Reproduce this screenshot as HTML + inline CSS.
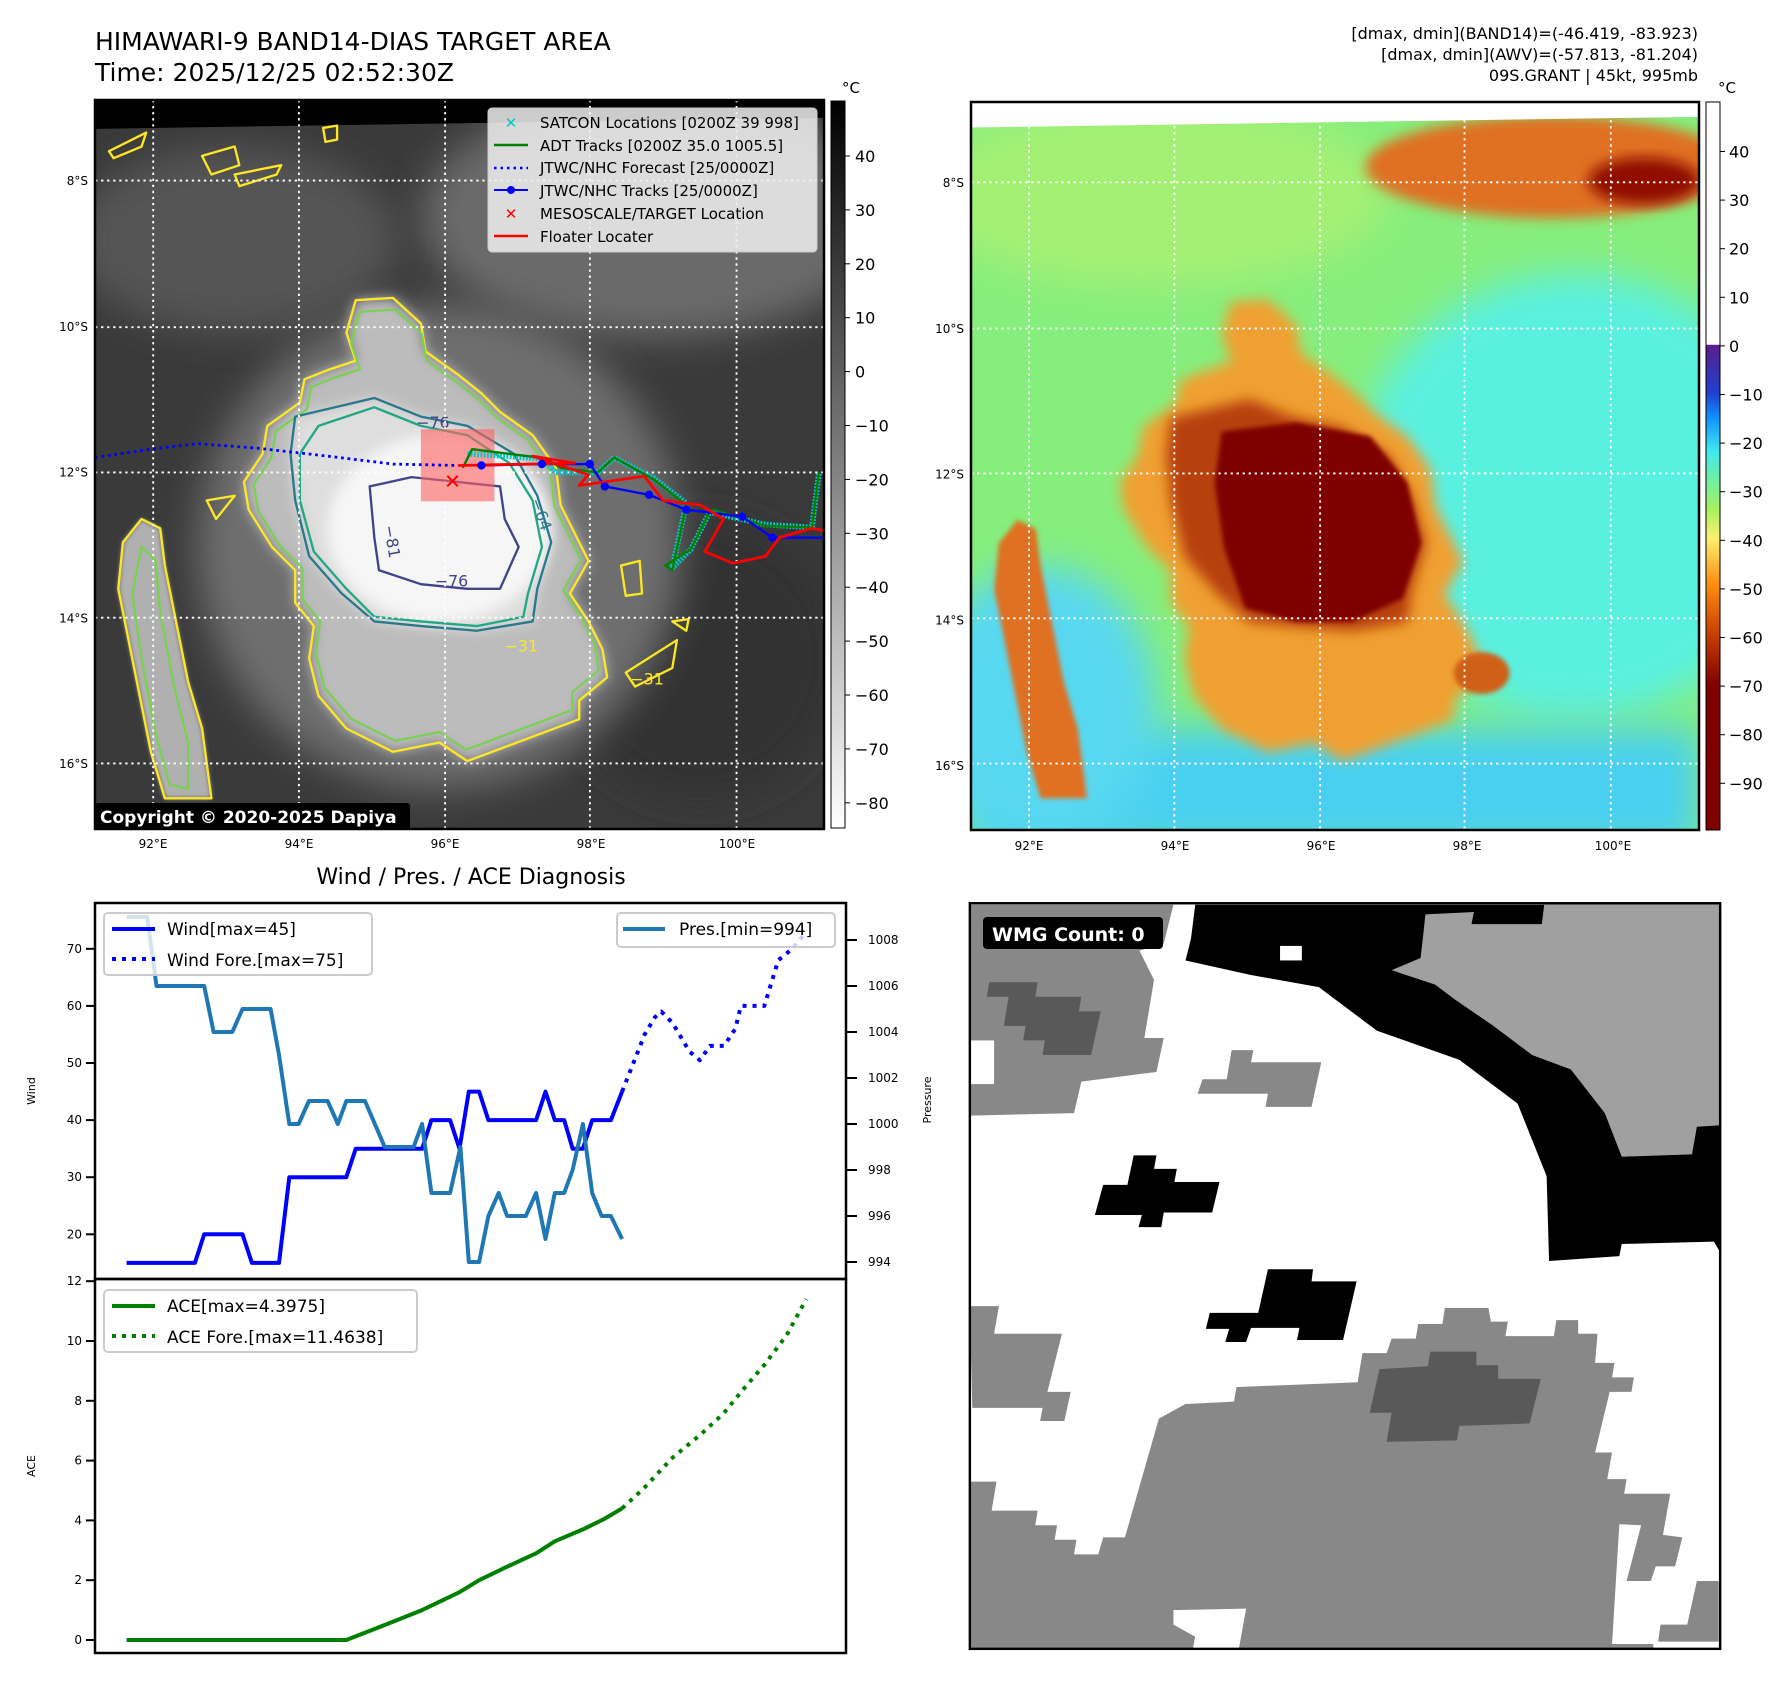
<!DOCTYPE html>
<html><head><meta charset="utf-8"><style>
html,body{margin:0;padding:0;background:#fff;}
svg text{font-family:"DejaVu Sans","Liberation Sans",sans-serif;}
</style></head><body>
<svg id="root" xmlns="http://www.w3.org/2000/svg" width="1788" height="1690" viewBox="0 0 1788 1690">
<defs>
<filter id="b8" x="-20%" y="-20%" width="140%" height="140%"><feGaussianBlur stdDeviation="14"/></filter>
<filter id="b20" x="-30%" y="-30%" width="160%" height="160%"><feGaussianBlur stdDeviation="40"/></filter>
<filter id="b4"><feGaussianBlur stdDeviation="5"/></filter>
<linearGradient id="grayBar" x1="0" y1="0" x2="0" y2="1"><stop offset="0" stop-color="#000"/><stop offset="1" stop-color="#fff"/></linearGradient>
<linearGradient id="colBar" x1="0" y1="0" x2="0" y2="1">
<stop offset="0" stop-color="#ffffff"/><stop offset="0.333" stop-color="#ffffff"/>
<stop offset="0.334" stop-color="#5a1e8c"/><stop offset="0.40" stop-color="#2040d0"/>
<stop offset="0.433" stop-color="#1090ff"/><stop offset="0.48" stop-color="#40e8f0"/>
<stop offset="0.52" stop-color="#70f0a0"/><stop offset="0.56" stop-color="#a8f060"/>
<stop offset="0.60" stop-color="#fff070"/><stop offset="0.66" stop-color="#ff9010"/>
<stop offset="0.73" stop-color="#c84000"/><stop offset="0.80" stop-color="#800000"/><stop offset="1" stop-color="#800000"/>
</linearGradient>
<clipPath id="mapclip"><rect x="0" y="0" width="1568" height="1568"/></clipPath>
</defs>

<text x="95" y="50" font-size="25">HIMAWARI-9 BAND14-DIAS TARGET AREA</text>
<text x="95" y="81" font-size="25">Time: 2025/12/25 02:52:30Z</text>
<g font-size="16" text-anchor="end">
<text x="1698" y="39">[dmax, dmin](BAND14)=(-46.419, -83.923)</text>
<text x="1698" y="60">[dmax, dmin](AWV)=(-57.813, -81.204)</text>
<text x="1698" y="81">09S.GRANT | 45kt, 995mb</text>
</g>

<svg x="95" y="100" width="730" height="730" viewBox="0 0 1568 1568">
<g clip-path="url(#mapclip)">
<rect width="1568" height="1568" fill="#3a3a3a"/>
<ellipse cx="1200" cy="250" rx="500" ry="260" fill="#6a6a6a" filter="url(#b20)"/>
<ellipse cx="300" cy="300" rx="350" ry="200" fill="#555" filter="url(#b20)"/>
<ellipse cx="1300" cy="1200" rx="300" ry="300" fill="#303030" filter="url(#b20)"/>
<ellipse cx="740" cy="960" rx="520" ry="520" fill="#6e6e6e" filter="url(#b20)"/>
<polygon fill="#bcbcbc" filter="url(#b8)" points="560,430 640,425 700,480 710,540 780,590 830,630 870,670 940,720 990,790 1000,870 1030,930 1060,990 1020,1060 1060,1120 1090,1180 1100,1240 1040,1290 1040,1330 960,1360 880,1390 800,1420 740,1380 640,1400 540,1350 480,1280 460,1200 470,1130 430,1080 430,1010 380,960 330,880 320,820 360,760 370,700 440,650 450,600 500,580 560,560 540,500"/>
<polygon fill="#b0b0b0" filter="url(#b4)" points="100,900 140,920 150,1000 170,1100 200,1250 230,1350 250,1500 150,1500 120,1400 80,1200 50,1050 60,950"/>
<polygon fill="#dedede" filter="url(#b8)" points="430,680 600,640 700,680 800,700 900,760 950,850 980,950 950,1050 940,1120 820,1140 700,1130 600,1120 530,1060 460,980 430,860 420,760"/>
<ellipse cx="740" cy="920" rx="240" ry="200" fill="#f6f6f6" filter="url(#b8)"/>
<polygon fill="#000" points="0,0 1568,0 1568,38 0,62"/>
<g fill="none" stroke-width="5" stroke-linejoin="round">
<polygon stroke="#fde725" points="560,430 640,425 700,480 710,540 780,590 830,630 870,670 940,720 990,790 1000,870 1030,930 1060,990 1020,1060 1060,1120 1090,1180 1100,1240 1040,1290 1040,1330 960,1360 880,1390 800,1420 740,1380 640,1400 540,1350 480,1280 460,1200 470,1130 430,1080 430,1010 380,960 330,880 320,820 360,760 370,700 440,650 450,600 500,580 560,560 540,500"/>
<polygon stroke="#7ad151" transform="translate(740 930) scale(0.95) translate(-740 -930)" points="560,430 640,425 700,480 710,540 780,590 830,630 870,670 940,720 990,790 1000,870 1030,930 1060,990 1020,1060 1060,1120 1090,1180 1100,1240 1040,1290 1040,1330 960,1360 880,1390 800,1420 740,1380 640,1400 540,1350 480,1280 460,1200 470,1130 430,1080 430,1010 380,960 330,880 320,820 360,760 370,700 440,650 450,600 500,580 560,560 540,500"/>
<polygon stroke="#fde725" points="100,900 140,920 150,1000 170,1100 200,1250 230,1350 250,1500 150,1500 120,1400 80,1200 50,1050 60,950"/>
<polygon stroke="#7ad151" points="100,960 130,990 140,1100 170,1260 200,1380 200,1480 160,1470 130,1360 100,1200 80,1060"/>
<polygon stroke="#22a884" points="480,700 600,660 700,700 800,720 890,780 940,860 960,960 930,1060 920,1110 820,1130 700,1120 600,1110 540,1050 470,970 440,860 440,760"/>
<polygon stroke="#2a788e" points="430,680 600,640 700,680 800,700 900,760 950,850 980,950 950,1050 940,1120 820,1140 700,1130 600,1120 530,1060 460,980 430,860 420,760"/>
<polygon stroke="#414487" points="590,830 680,810 870,830 880,900 910,960 870,1050 800,1050 700,1040 610,1010 600,940"/>
<path stroke="#fde725" d="M30,110 L110,70 L100,100 L40,125 Z M230,120 L300,100 L310,140 L250,160 Z M300,160 L400,140 L390,160 L310,185 Z M490,60 L520,55 L520,85 L495,90 Z M1130,1000 L1170,990 L1175,1060 L1140,1065 Z M1140,1230 L1250,1160 L1240,1220 L1160,1260 Z M1240,1120 L1275,1115 L1270,1140 Z M240,860 L300,850 L260,900 Z"/>
</g>
<g font-size="34" fill="#414487">
<text x="620" y="915" transform="rotate(80 620 915)">−81</text>
<text x="730" y="1045">−76</text>
<text x="690" y="705">−76</text>
<text x="935" y="860" fill="#2a788e" transform="rotate(70 935 860)">−64</text>
<text x="880" y="1185" fill="#fde725">−31</text>
<text x="1150" y="1255" fill="#fde725">−31</text>
</g>
<g stroke="#fff" stroke-width="4" stroke-dasharray="5 8">
<line x1="125" y1="0" x2="125" y2="1568"/><line x1="438" y1="0" x2="438" y2="1568"/><line x1="752" y1="0" x2="752" y2="1568"/><line x1="1063" y1="0" x2="1063" y2="1568"/><line x1="1378" y1="0" x2="1378" y2="1568"/>
<line x1="0" y1="173" x2="1568" y2="173"/><line x1="0" y1="488" x2="1568" y2="488"/><line x1="0" y1="800" x2="1568" y2="800"/><line x1="0" y1="1112" x2="1568" y2="1112"/><line x1="0" y1="1425" x2="1568" y2="1425"/>
</g>
<rect x="700" y="707" width="158" height="155" fill="#ff6060" opacity="0.6"/>
<g fill="none" stroke-linejoin="round">
<polyline stroke="#00c8c8" stroke-width="12" stroke-dasharray="4 3" points="800,760 960,770 990,800 1080,800 1115,768 1200,812 1270,866 1240,1005 1280,965 1320,885 1440,912 1540,918 1555,800"/>
<polyline stroke="#008000" stroke-width="5" points="790,790 810,750 970,770 1000,790 1080,800 1115,768 1200,815 1270,870 1240,1010 1225,1000 1280,965 1320,885 1330,880 1440,915 1540,918 1555,800"/>
<polyline stroke="#0000ff" stroke-width="6" stroke-dasharray="6 8" points="0,768 120,750 220,738 350,748 500,765 640,782 780,785"/>
<polyline stroke="#0000ff" stroke-width="5" points="830,785 960,782 1063,782 1095,830 1190,848 1270,880 1390,895 1455,940 1568,940"/>
<polyline stroke="#ff0000" stroke-width="6" points="780,785 1030,780 940,765 1060,805 1040,828 1180,808 1220,860 1300,870 1350,900 1310,970 1370,995 1440,980 1470,940 1540,920 1568,925"/>
</g>
<g fill="#0000ff"><circle cx="830" cy="785" r="9"/><circle cx="960" cy="782" r="9"/><circle cx="1063" cy="782" r="9"/><circle cx="1095" cy="830" r="9"/><circle cx="1190" cy="848" r="9"/><circle cx="1270" cy="880" r="9"/><circle cx="1390" cy="895" r="9"/><circle cx="1455" cy="940" r="9"/></g>
<text x="768" y="834" font-size="44" font-weight="bold" fill="#ff0000" text-anchor="middle">✕</text>
</g>
</svg>
<rect x="95" y="100" width="729" height="729" fill="none" stroke="#000" stroke-width="2.5"/>

<g>
<rect x="488" y="108" width="329" height="144" rx="4" fill="#f0f0f0" fill-opacity="0.85" stroke="#ccc"/>
<g font-size="15">
<text x="511" y="128" fill="#00c8c8" text-anchor="middle" font-weight="bold">✕</text><text x="540" y="128">SATCON Locations [0200Z 39 998]</text>
<line x1="494" y1="145" x2="528" y2="145" stroke="#008000" stroke-width="2.5"/><text x="540" y="151">ADT Tracks [0200Z 35.0 1005.5]</text>
<line x1="494" y1="168" x2="528" y2="168" stroke="#0000ff" stroke-width="2.5" stroke-dasharray="2.5 4"/><text x="540" y="173">JTWC/NHC Forecast [25/0000Z]</text>
<line x1="494" y1="190" x2="528" y2="190" stroke="#0000ff" stroke-width="2"/><circle cx="511" cy="190" r="4" fill="#0000ff"/><text x="540" y="196">JTWC/NHC Tracks [25/0000Z]</text>
<text x="511" y="219" fill="#ff0000" text-anchor="middle" font-weight="bold">✕</text><text x="540" y="219">MESOSCALE/TARGET Location</text>
<line x1="494" y1="236" x2="528" y2="236" stroke="#ff0000" stroke-width="2.5"/><text x="540" y="242">Floater Locater</text>
</g></g>
<g><rect x="95" y="803" width="315" height="27" rx="3" fill="#000"/><text x="100" y="823" fill="#fff" font-size="17" font-weight="bold">Copyright © 2020-2025 Dapiya</text></g>

<g>
<rect x="831" y="101" width="14" height="727" fill="url(#grayBar)" stroke="#000" stroke-width="1"/>
<text x="842" y="93" font-size="15">°C</text>
<g id="lcbTicks" font-size="16"></g>
</g>

<svg x="971" y="102" width="728" height="728" viewBox="0 0 1568 1568">
<g clip-path="url(#mapclip)">
<rect width="1568" height="1568" fill="#86ee7c"/>
<ellipse cx="400" cy="200" rx="500" ry="200" fill="#a4f074" filter="url(#b20)"/>
<ellipse cx="1300" cy="850" rx="480" ry="480" fill="#5af0e0" filter="url(#b20)"/>
<rect x="0" y="1350" width="1568" height="260" fill="#48d0f0" filter="url(#b20)"/>
<ellipse cx="150" cy="1300" rx="250" ry="300" fill="#58d8f0" filter="url(#b20)"/>
<ellipse cx="1250" cy="140" rx="400" ry="110" fill="#e07020" filter="url(#b8)"/>
<ellipse cx="1450" cy="170" rx="120" ry="50" fill="#900800" filter="url(#b8)"/>
<polygon fill="#f0a030" filter="url(#b8)" points="560,430 640,425 700,480 710,540 780,590 830,630 870,670 940,720 990,790 1000,870 1030,930 1060,990 1020,1060 1060,1120 1090,1180 1100,1240 1040,1290 1040,1330 960,1360 880,1390 800,1420 740,1380 640,1400 540,1350 480,1280 460,1200 470,1130 430,1080 430,1010 380,960 330,880 320,820 360,760 370,700 440,650 450,600 500,580 560,560 540,500"/>
<polygon fill="#e07020" filter="url(#b4)" points="100,900 140,920 150,1000 170,1100 200,1250 230,1350 250,1500 150,1500 120,1400 80,1200 50,1050 60,950"/>
<polygon fill="#b84008" filter="url(#b8)" points="430,680 600,640 700,680 800,700 900,760 950,850 980,950 950,1050 940,1120 820,1140 700,1130 600,1120 530,1060 460,980 430,860 420,760"/>
<polygon fill="#800000" filter="url(#b4)" points="540,710 700,690 860,720 940,820 970,950 930,1070 820,1120 700,1120 590,1090 545,960 525,820"/>
<ellipse cx="1100" cy="1230" rx="60" ry="45" fill="#d06018" filter="url(#b4)"/>
<polygon fill="#fff" points="0,0 1568,0 1568,32 0,55"/>
<g stroke="#fff" stroke-width="4" stroke-dasharray="5 8">
<line x1="125" y1="0" x2="125" y2="1568"/><line x1="438" y1="0" x2="438" y2="1568"/><line x1="752" y1="0" x2="752" y2="1568"/><line x1="1063" y1="0" x2="1063" y2="1568"/><line x1="1378" y1="0" x2="1378" y2="1568"/>
<line x1="0" y1="173" x2="1568" y2="173"/><line x1="0" y1="488" x2="1568" y2="488"/><line x1="0" y1="800" x2="1568" y2="800"/><line x1="0" y1="1112" x2="1568" y2="1112"/><line x1="0" y1="1425" x2="1568" y2="1425"/>
</g>
</g>
</svg>
<rect x="971" y="102" width="728" height="728" fill="none" stroke="#000" stroke-width="2.5"/>
<g>
<rect x="1706" y="102" width="14" height="728" fill="url(#colBar)" stroke="#000" stroke-width="1"/>
<text x="1718" y="93" font-size="15">°C</text>
<g id="rcbTicks" font-size="16"></g>
</g>
<g id="mapAxes" font-size="12"></g>

<text x="471" y="884" font-size="22" text-anchor="middle">Wind / Pres. / ACE Diagnosis</text>
<g id="chart"></g>
<rect x="95" y="903" width="751" height="376" fill="none" stroke="#000" stroke-width="2.5"/>
<rect x="95" y="1279" width="751" height="374" fill="none" stroke="#000" stroke-width="2.5"/>
<text x="35" y="1091" font-size="11" transform="rotate(-90 35 1091)" text-anchor="middle">Wind</text>
<text x="35" y="1466" font-size="11" transform="rotate(-90 35 1466)" text-anchor="middle">ACE</text>
<text x="931" y="1100" font-size="11" transform="rotate(-90 931 1100)" text-anchor="middle">Pressure</text>
<g>
<rect x="104" y="913" width="268" height="62" rx="4" fill="#fff" fill-opacity="0.8" stroke="#ccc" stroke-width="2"/>
<line x1="112" y1="929" x2="155" y2="929" stroke="#0000ff" stroke-width="4"/>
<line x1="112" y1="959" x2="155" y2="959" stroke="#0000ff" stroke-width="4" stroke-dasharray="4 6"/>
<text x="167" y="935" font-size="17">Wind[max=45]</text><text x="167" y="966" font-size="17">Wind Fore.[max=75]</text>
</g>
<g>
<rect x="617" y="913" width="218" height="34" rx="4" fill="#fff" fill-opacity="0.8" stroke="#ccc" stroke-width="2"/>
<line x1="623" y1="929" x2="665" y2="929" stroke="#1f77b4" stroke-width="4"/>
<text x="679" y="935" font-size="17">Pres.[min=994]</text>
</g>
<g>
<rect x="104" y="1290" width="313" height="62" rx="4" fill="#fff" fill-opacity="0.8" stroke="#ccc" stroke-width="2"/>
<line x1="112" y1="1306" x2="155" y2="1306" stroke="#008000" stroke-width="4"/>
<line x1="112" y1="1336" x2="155" y2="1336" stroke="#008000" stroke-width="4" stroke-dasharray="4 6"/>
<text x="167" y="1312" font-size="17">ACE[max=4.3975]</text><text x="167" y="1343" font-size="17">ACE Fore.[max=11.4638]</text>
</g>

<svg x="965" y="895" width="760" height="765" viewBox="0 0 1568 1578" preserveAspectRatio="none">
<rect x="10" y="17" width="1548" height="1538" fill="#fff"/>
<polygon fill="#000" points="475,20 1560,20 1560,740 1545,715 1355,720 1350,745 1205,755 1200,580 1140,430 1020,340 850,280 730,190 590,165 455,135 470,75 510,80 500,105 465,100"/>
<polygon fill="#a0a0a0" points="1195,20 1560,20 1560,475 1510,478 1500,535 1355,540 1320,450 1250,360 1170,330 1090,270 1010,215 970,185 880,155 940,130 950,40 1050,35 1045,60 1190,60"/>
<rect x="650" y="105" width="45" height="30" fill="#fff"/>
<polygon fill="#888" points="10,20 430,20 410,100 360,115 390,175 370,295 410,295 395,365 240,385 225,450 10,455"/>
<rect x="10" y="300" width="50" height="90" fill="#fff"/>
<polygon fill="#595959" points="50,180 150,180 145,210 240,210 235,240 280,240 260,330 160,330 165,300 120,300 125,270 80,270 90,210 45,210"/>
<polygon fill="#888" points="550,320 595,320 590,345 735,345 715,437 620,437 625,410 480,410 490,380 540,380"/>
<polygon fill="#000" points="348,537 395,537 390,565 437,565 432,592 525,592 510,655 410,655 405,685 358,685 365,660 268,660 285,598 335,598"/>
<polygon fill="#000" points="625,772 718,772 715,797 808,797 780,918 685,918 690,893 590,893 580,922 537,922 545,895 497,895 505,862 605,862"/>
<polygon fill="#888" points="10,848 70,848 60,905 200,905 170,1025 218,1025 205,1085 155,1085 160,1058 15,1058"/>
<polygon fill="#888" points="10,1210 65,1210 55,1270 150,1270 145,1300 190,1300 185,1330 230,1330 225,1360 275,1360 285,1325 330,1325 400,1080 455,1050 555,1045 560,1015 810,1005 820,945 870,945 880,915 930,915 935,885 985,885 990,852 1080,852 1085,880 1120,880 1115,910 1215,910 1220,877 1265,877 1265,905 1305,905 1300,965 1340,965 1335,995 1380,995 1375,1025 1330,1025 1300,1150 1335,1150 1325,1205 1365,1205 1360,1235 1455,1235 1440,1320 1480,1325 1465,1385 1425,1385 1415,1415 1365,1415 1395,1300 1350,1298 1335,1545 1420,1545 1420,1555 10,1555"/>
<polygon fill="#888" points="1510,1415 1555,1415 1555,1540 1430,1540 1435,1505 1490,1505"/>
<polygon fill="#fff" points="430,1475 580,1472 565,1555 470,1555 475,1530 430,1505"/>
<polygon fill="#595959" points="960,942 1055,942 1055,970 1100,970 1100,998 1188,998 1165,1090 1020,1095 1015,1125 870,1128 880,1068 835,1068 855,978 955,972"/>
<rect x="10" y="17" width="1548" height="1538" fill="none" stroke="#000" stroke-width="5"/>
</svg>
<g><rect x="983" y="917" width="180" height="32" rx="4" fill="#000"/><text x="992" y="941" fill="#fff" font-size="19" font-weight="bold">WMG Count: 0</text></g>
</svg>
<script>
const windT = [0,7.3,8.3,12.4,13.4,16.3,17.4,23.5,24.5,31.6,32.6,34.6,35.6,36.6,37.7,38.7,43.8,44.8,45.8,46.8,47.7,48.8,49.8,51.8,53];
const windV = [15,15,20,20,15,15,30,30,35,35,40,40,35,45,45,40,40,45,40,40,35,35,40,40,45];
const windForeT = [53,54.2,55.4,56.5,57.2,58.4,60.2,61.3,62.4,63.9,65.1,65.7,68.2,69.7,71.2,72.7];
const windForeV = [45,50,55,58,59,57,52,50.5,53,53,56,60,60,68,70,73];
const presT = [0,2.2,3.2,8.3,9.3,11.3,12.4,15.4,16.3,17.4,18.4,19.5,21.5,22.6,23.5,25.5,27.6,30.7,31.6,32.6,34.6,35.7,36.6,37.7,38.7,39.8,40.7,42.7,43.8,44.8,45.8,46.8,47.7,48.8,49.8,50.8,51.8,53];
const presV = [1009,1009,1006,1006,1004,1004,1005,1005,1003,1000,1000,1001,1001,1000,1001,1001,999,999,1000,997,997,999,994,994,996,997,996,996,997,995,997,997,998,1000,997,996,996,995];
const aceT = [0,23.5,27.6,31.6,35.6,37.7,40.7,43.8,45.8,48.8,51.1,53];
const aceV = [0,0,0.5,1.0,1.6,2.0,2.45,2.9,3.3,3.7,4.05,4.4];
const aceForeT = [53,55.4,58.4,61.5,63.9,66,68.2,70.6,72.7];
const aceForeV = [4.4,5.1,6.1,6.9,7.6,8.4,9.2,10.2,11.4];
const windTicks = [20,30,40,50,60,70];
const presTicks = [994,996,998,1000,1002,1004,1006,1008];
const aceTicks = [0,2,4,6,8,10,12];
const irTicks = [40,30,20,10,0,-10,-20,-30,-40,-50,-60,-70,-80];
const awvTicks = [40,30,20,10,0,-10,-20,-30,-40,-50,-60,-70,-80,-90];
const lonTicks = [92,94,96,98,100];
const latTicks = [8,10,12,14,16];

const NS='http://www.w3.org/2000/svg';
function mk(tag,attrs,parent){const e=document.createElementNS(NS,tag);for(const k in attrs)e.setAttribute(k,attrs[k]);parent.appendChild(e);return e;}
const X = t => 126.6 + t*9.35;
const YW = w => 1280 - (w-12)*5.71;
const YP = p => 1262 - (p-994)*23;
const YA = a => 1640 - a*29.9;
const chart=document.getElementById('chart');
function line(ts,vs,yf,color,dash,name){
  const d=ts.map((t,i)=>(i?'L':'M')+X(t).toFixed(1)+','+yf(vs[i]).toFixed(1)).join(' ');
  const p=mk('path',{d:d,fill:'none',stroke:color,'stroke-width':4,'stroke-linejoin':'round'},chart);
  if(dash)p.setAttribute('stroke-dasharray','4 6');
  
  
}
line(windT,windV,YW,'#0000ff',false,'wind-line');
line(windForeT,windForeV,YW,'#0000ff',true,'wind-forecast-line');
line(presT,presV,YP,'#1f77b4',false,'pressure-line');
line(aceT,aceV,YA,'#008000',false,'ace-line');
line(aceForeT,aceForeV,YA,'#008000',true,'ace-forecast-line');
function tickL(v,y,label){
  mk('line',{x1:86,y1:y,x2:95,y2:y,stroke:'#000','stroke-width':2},chart);
  const t=mk('text',{x:82,y:y+4,'font-size':12,'text-anchor':'end'},chart);t.textContent=label;
  
  
}
windTicks.forEach(v=>tickL(v,YW(v),v));
aceTicks.forEach(v=>tickL(v,YA(v),v));
presTicks.forEach(v=>{const y=YP(v);
  mk('line',{x1:846,y1:y,x2:857,y2:y,stroke:'#000','stroke-width':2},chart);
  const t=mk('text',{x:868,y:y+4,'font-size':12},chart);t.textContent=v;
  
  
});
const lcb=document.getElementById('lcbTicks');
irTicks.forEach(v=>{const y=156+(40-v)*5.39;
  mk('line',{x1:845,y1:y,x2:850,y2:y,stroke:'#000'},lcb);
  const t=mk('text',{x:855,y:y+6},lcb);t.textContent=String(v).replace('-','−');
  
  
});
const rcb=document.getElementById('rcbTicks');
awvTicks.forEach(v=>{const y=151.5+(40-v)*4.86;
  mk('line',{x1:1720,y1:y,x2:1725,y2:y,stroke:'#000'},rcb);
  const t=mk('text',{x:1729,y:y+6},rcb);t.textContent=String(v).replace('-','−');
  
  
});
const ma=document.getElementById('mapAxes');
[[95,100],[971,102]].forEach(([ox,oy])=>{
  lonTicks.forEach(l=>{const x=ox+58+(l-92)*73;
    const t=mk('text',{x:x,y:oy+748,'text-anchor':'middle'},ma);t.textContent=l+'°E';
    
    });
  latTicks.forEach(l=>{const y=oy+81+(l-8)*72.9;
    const t=mk('text',{x:ox-7,y:y+4,'text-anchor':'end'},ma);t.textContent=l+'°S';
    
    });
});
</script>
</body></html>
